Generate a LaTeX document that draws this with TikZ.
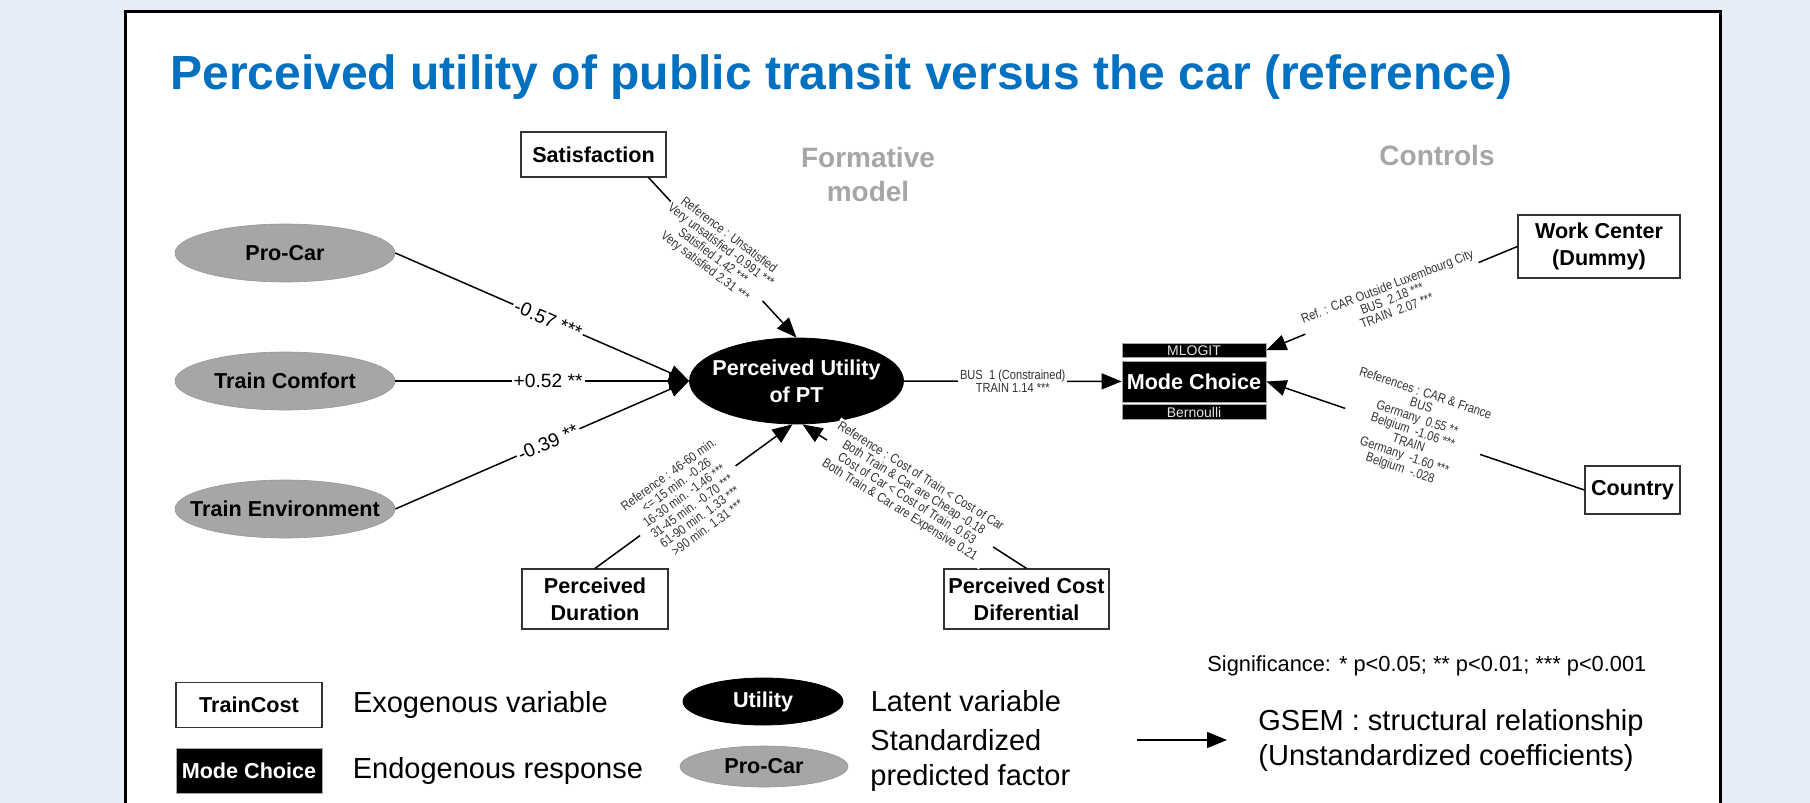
\documentclass[tikz,border=0pt]{standalone}
\usepackage{fontspec}
\setmainfont{Liberation Sans}
\newfontfamily\narrowsf[FakeStretch=0.84]{Liberation Sans}
\usetikzlibrary{positioning,arrows.meta,shapes.geometric}
\definecolor{titleblue}{HTML}{0070C0}
\definecolor{slidebg}{HTML}{E7EDF7}
\definecolor{factor}{HTML}{A6A6A6}
\definecolor{headgray}{HTML}{A6A6A6}
\tikzset{
  exo/.style={draw=black!80,line width=0.6pt,fill=white,inner sep=0pt,align=center,
    font=\bfseries\fontsize{10.8}{13.5}\selectfont},
  latent/.style={ellipse,draw=black,fill=black,text=white,inner xsep=-10pt,inner ysep=-4pt,align=center,
    font=\bfseries\fontsize{10.8}{13.5}\selectfont},
  stdfactor/.style={ellipse,draw=factor!90!black,line width=0.3pt,fill=factor,inner xsep=-10pt,inner ysep=-4pt,
    minimum width=110pt,minimum height=29pt,font=\bfseries\fontsize{10.8}{13.5}\selectfont},
  endo/.style={draw=black!35,fill=black,text=white,inner sep=0pt,minimum width=72pt,
    font=\bfseries\fontsize{10.8}{13.5}\selectfont},
  endobar/.style={draw=black!35,fill=black,text=white!90!black,inner sep=0pt,minimum width=72pt,
    minimum height=7pt,font=\fontsize{7}{7}\selectfont},
  coef/.style={fill=white,inner sep=1pt,font=\fontsize{9.6}{11}\selectfont},
  smallcoef/.style={fill=white,inner sep=1pt,align=center,text=black!80,
    font=\narrowsf\fontsize{6.6}{6.6}\selectfont},
  conn/.style={-{Triangle[length=10pt,width=8pt]},line width=0.75pt},
  legtext/.style={inner sep=0pt,align=left,font=\fontsize{14.5}{17.5}\selectfont}
}
\begin{document}
\begin{tikzpicture}[x=0.5pt,y=-0.5pt]
  \fill[slidebg] (0,0) rectangle (1810,803);
  \useasboundingbox (0,0) rectangle (1810,803);
  \draw[line width=1.5pt,fill=white] (125,11.5) rectangle (1720,812);

  % title and headings
  \node[anchor=base west,inner sep=0pt,text=titleblue,font=\bfseries\fontsize{24}{28}\selectfont] (title) at (170,89) {Perceived utility of public transit versus the car (reference)};
  \node[text=headgray,align=center,inner sep=0pt,font=\bfseries\fontsize{14}{17}\selectfont] (formative) at (868,174) {Formative\\model};
  \node[text=headgray,anchor=base,inner sep=0pt,font=\bfseries\fontsize{14}{17}\selectfont] (controls) at (1437,165) {Controls};

  % model
  \node[stdfactor] (pro)     at (285,253) {Pro-Car};
  \node[stdfactor] (comfort) at (285,381) {Train Comfort};
  \node[stdfactor] (env)     at (285,509) {Train Environment};
  \node[latent,minimum width=107pt,minimum height=43pt] (util) at (796.5,381) {Perceived Utility\\of PT};
  \node[exo,minimum width=72.5pt,minimum height=22.5pt] (sat) at (593.5,154.5) {Satisfaction};
  \node[exo,minimum width=73pt,minimum height=30pt] (dur) at (595,599) {Perceived\\Duration};
  \node[exo,minimum width=82.5pt,minimum height=30pt] (cost) at (1026.5,599) {Perceived Cost\\Diferential};
  \node[endo,minimum height=20.5pt] (mode) at (1194,381.5) {Mode Choice};
  \node[endobar] (mlogit) [above=1.5pt of mode] {MLOGIT};
  \node[endobar,minimum height=7.5pt] (bern) [below=1pt of mode] {Bernoulli};
  \node[exo,minimum width=81pt,minimum height=31.5pt] (work) at (1599,246.5) {Work Center\\(Dummy)};
  \node[exo,minimum width=47.5pt,minimum height=24pt] (country) at (1632.5,490) {Country};

  \path[conn] (pro.east) edge node[coef,sloped,pos=0.52] {-0.57 ***} (util.west)
              (comfort.east) edge node[coef,pos=0.52] {+0.52 **} (util.west)
              (env.east) edge node[coef,sloped,pos=0.52] {-0.39 **} (util.west)
              ([xshift=-9pt]sat.south east) edge node[smallcoef,rotate=-37,pos=0.46]
                {Reference : Unsatisfied\\Very unsatisfied -0.991 ***\\Satisfied 1.42 ***\\Very satisfied 2.31 ***} (util.north)
              (dur.north) edge node[smallcoef,rotate=36,pos=0.47]
                {Reference : 46-60 min.\\<= 15 min. -0.26\\16-30 min. -1.46 ***\\31-45 min. -0.70 ***\\61-90 min. 1.33 ***\\>90 min. 1.31 ***} ([xshift=-2pt]util.south)
              (cost.north) edge node[smallcoef,rotate=-32,pos=0.52]
                {Reference : Cost of Train < Cost of Car\\Both Train \& Car are Cheap -0.18\\Cost of Car < Cost of Train -0.63\\Both Train \& Car are Expensive 0.21} ([xshift=3pt]util.south)
              (util) edge node[smallcoef,pos=0.5] {BUS\ \ 1 (Constrained)\\TRAIN 1.14 ***} (mode)
              (work.west) edge node[smallcoef,rotate=21,pos=0.5]
                {Ref. : CAR Outside Luxembourg City\\BUS\ \ 2.18 ***\\TRAIN\ \ 2.07 ***} (mlogit.east)
              (country.west) edge node[smallcoef,rotate=-18.6,pos=0.54]
                {References : CAR \& France\\BUS\\Germany\ \ 0.55 **\\Belgium\ \ -1.06 ***\\TRAIN\\Germany\ \ -1.60 ***\\Belgium\ \ -.028} (mode.east);

  % legend
  \node[exo,minimum width=73pt,minimum height=22.5pt] (legexo) at (249,705) {TrainCost};
  \node[legtext,right=15pt of legexo] (legexotxt) {Exogenous variable};
  \node[endo,minimum width=73pt,minimum height=22.5pt] (legendo) at (249,770.5) {Mode Choice};
  \node[legtext,right=15pt of legendo] (legendotxt) {Endogenous response};
  \node[latent,minimum width=80pt,minimum height=23.5pt] (leglat) at (763,701.5) {Utility};
  \node[legtext,right=13.5pt of leglat] (leglattxt) {Latent variable};
  \node[stdfactor,minimum width=84pt,minimum height=20.5pt] (legstd) at (764,766.5) {Pro-Car};
  \node[legtext,anchor=west] (legstdtxt) at (870,760.5) {Standardized\\predicted factor};
  \node[anchor=west,inner sep=0pt,font=\fontsize{10.9}{13}\selectfont] (signif) at (1207,666) {Significance: * p<0.05; ** p<0.01; *** p<0.001};
  \coordinate (gs0) at (1137,740);
  \coordinate (gs1) at (1227,740);
  \draw[conn] (gs0) -- (gs1);
  \node[legtext,anchor=west] (gsem) at (1258,740.5) {GSEM : structural relationship\\(Unstandardized coefficients)};
\end{tikzpicture}
\end{document}
